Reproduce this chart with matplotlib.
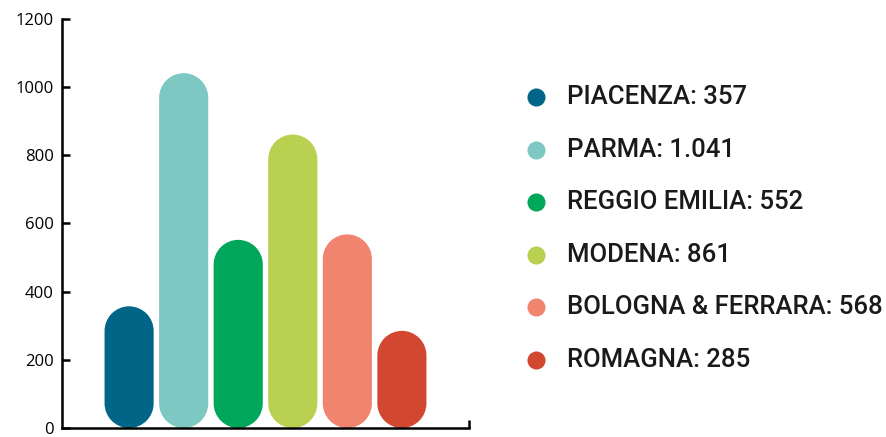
import numpy as np
import matplotlib.pyplot as plt
from matplotlib.path import Path
from matplotlib.patches import PathPatch

# dati
regioni = ['PIACENZA', 'PARMA', 'REGGIO EMILIA', 'MODENA', 'BOLOGNA & FERRARA', 'ROMAGNA']
valori = [357, 1041, 552, 861, 568, 285]
etichette = ['357', '1.041', '552', '861', '568', '285']
colori = ['#006586', '#7dc8c3', '#00a65a', '#b9d050', '#f0846e', '#d2472f']
yticks = [0, 200, 400, 600, 800, 1000, 1200]

W, H = 887, 437
fig = plt.figure(figsize=(W / 100, H / 100), dpi=100)
ax = fig.add_axes([62 / W, (H - 428) / H, (469 - 62) / W, (428 - 19) / H])

xmin, xmax = -1.23, 6.23
ax.set_xlim(xmin, xmax)
ax.set_ylim(0, 1200)

# rapporto unità y / unità x in pixel, per avere i bordi tondi
fig.canvas.draw()
p0 = ax.transData.transform((0, 0))
p1 = ax.transData.transform((1, 1))
aspect = (p1[0] - p0[0]) / (p1[1] - p0[1])

larghezza = 0.9
hw = larghezza / 2
r_y = hw * aspect  # raggio in unità y


def pillola(xc, v):
    giu = Path.arc(180, 360)
    su = Path.arc(0, 180)
    vg = giu.vertices.copy()
    vs = su.vertices.copy()
    vg[:, 0] = xc + hw * vg[:, 0]
    vg[:, 1] = r_y + r_y * vg[:, 1]
    vs[:, 0] = xc + hw * vs[:, 0]
    vs[:, 1] = v - r_y + r_y * vs[:, 1]
    cs = su.codes.copy()
    cs[0] = Path.LINETO
    verts = np.vstack([vg, vs, vg[:1]])
    codes = np.concatenate([giu.codes, cs, [Path.CLOSEPOLY]])
    return Path(verts, codes)


for i, (v, c) in enumerate(zip(valori, colori)):
    ax.add_patch(PathPatch(pillola(i, v), facecolor=c, edgecolor='none'))

for s in ['top', 'right']:
    ax.spines[s].set_visible(False)
for s in ['left', 'bottom']:
    ax.spines[s].set_linewidth(1.8)
ax.set_yticks(yticks)
ax.set_yticklabels([str(t) for t in yticks], fontsize=12, family='Open Sans')
ax.set_xticks([xmax])
ax.set_xticklabels([''])
ax.tick_params(axis='both', direction='in', length=6, width=1.8, pad=6)

# legenda
ax2 = fig.add_axes([520 / W, (H - 386.3) / H, 367 / W, 315.6 / H])
ax2.set_xlim(0, 367)
ax2.set_ylim(5.5, -0.5)
ax2.axis('off')
for i, (r, e, c) in enumerate(zip(regioni, etichette, colori)):
    ax2.plot(16, i, 'o', color=c, markersize=13, markeredgewidth=0)
    ax2.text(47, i, f'{r}: {e}', fontsize=18.5, family='Roboto', fontweight='medium',
             color='#1a1a1a', va='center')

fig.savefig('out.png', dpi=100)
